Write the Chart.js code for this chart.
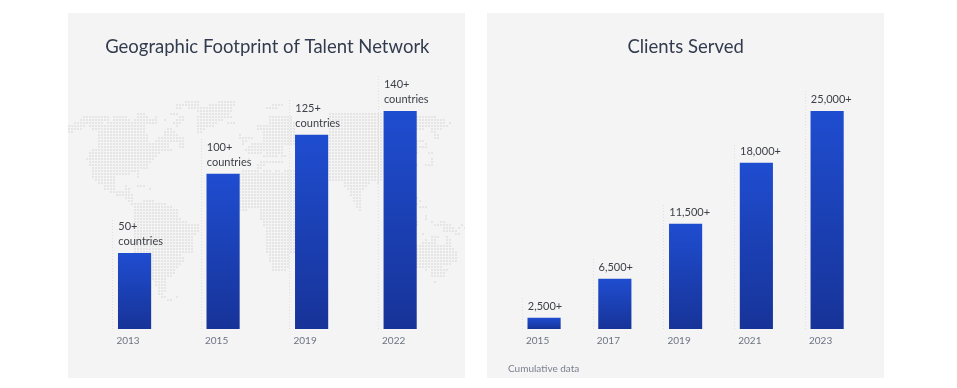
<!DOCTYPE html>
<html>
<head>
<meta charset="utf-8">
<title>Talent network and clients</title>
<script src="https://cdn.jsdelivr.net/npm/chart.js@4"></script>
<style>
  html, body { margin: 0; padding: 0; background: #fff; }
  body { width: 957px; height: 388px; position: relative; overflow: hidden; font-family: Lato, sans-serif; }
  .panel { position: absolute; top: 13px; width: 397px; height: 365px; background: #f4f4f4; }
  #panelLeft { left: 68px; }
  #panelRight { left: 487px; }
  .note { position: absolute; left: 21px; top: 349px; font-size: 10px; line-height: 12px; color: #7b8090; }
</style>
</head>
<body>
<div class="panel" id="panelLeft"><canvas id="footprintChart" width="397" height="365"></canvas></div>
<div class="panel" id="panelRight"><canvas id="clientsChart" width="397" height="365"></canvas><div class="note">Cumulative data</div></div>

<script>
// values are read from the bar heights, the printed labels are kept apart
// because the bars in the original are not quite to scale with them
var footprintYears = ['2013', '2015', '2019', '2022'];
var footprintValues = [48.6, 99.5, 124.6, 140];
var footprintLabels = [['50+', 'countries'], ['100+', 'countries'], ['125+', 'countries'], ['140+', 'countries']];

var clientYears = ['2015', '2017', '2019', '2021', '2023'];
var clientValues = [1260, 5730, 12040, 19040, 25000];
var clientLabels = [['2,500+'], ['6,500+'], ['11,500+'], ['18,000+'], ['25,000+']];

// dotted world map behind the left chart, one string per row, runs of columns
var worldMapRows = [
  '39-43 50-55',
  '36-43 47-55 68-71',
  '36-37 40-54 66-69',
  '43-54',
  '23-25 34-36 44-53 87-104',
  '5-13 15-19 23-26 29 37-38 43-54 67-74 87-104 116-122',
  '4-13 15-20 22-29 32 36-38 43-51 67-74 87-104 116-125',
  '2-11 13-29 35-37 43-49 53-55 67-75 87-104 116-125 127',
  '0-5 7-25 36 43-48 63-75 87-104 116-126',
  '0-4 8-25 33-34 43-45 63-75 87-104 116-118 121-124',
  '0-1 10-25 32-35 43-44 65-75 87-104 121-122',
  '10-26 32-36 57 65-75 87-104 122-123',
  '10-26 30-38 57-61 65-75 87-104 122-123',
  '10-26 29-38 58-59 65-75 87-104 116-118',
  '10-33 37-38 58 61-75 87-104 116 119',
  '10-33 37-38 60-71 87-104 116-119',
  '8-34 59-71 87-104 116',
  '7-30 60-64 66-71 87-104 116 120-121',
  '7-29 65-69 71-72 87-104',
  '6-28 60 87-104 121',
  '7-27 64-71 87-104 121',
  '7-26 63-65 87-104 116 119-121',
  '8-26 63-64 87-104',
  '8-23 58-63 65-67 69-70 72-75 87-104',
  '8-20 23 57-104',
  '8-15 23 57-104',
  '9-15 57-104',
  '10-15 57-75 92-100 103',
  '12-15 19 23-25 57-75 92-99',
  '12-15 19-20 27 57-75 93-98',
  '14-20 57-75 94-97',
  '16-21 57-75 94-97',
  '19-21 57-75 95-97 116',
  '20-21 25-28 57-75 95-97 117',
  '21-32 57-75 96-97 116',
  '22-34 57-75 96-97 117-119',
  '22-36 57-59 64-75 97',
  '22-36 64-75',
  '22-36 64-75 119',
  '22-37 64-75 119',
  '22-39 65-75 116 121 124-125',
  '22-43 65-75 116 122-127 131',
  '22-43 66-75 125-128 130 132',
  '22-43 66-75 125-129',
  '22-42 66-75 118 129-130',
  '22-41 66-75 121-123 126',
  '22-41 66-75 119 121-122 126-127',
  '22-41 66-75 118-122 126-127',
  '22-41 66-75 116-127',
  '22-41 66-75 116-128',
  '22-41 66-75 116-129',
  '27-37 67-73 116-129',
  '28-38 67-73 116-129',
  '28-38 67-73 116-129',
  '28-37 68-73 116-127',
  '28-36 68-73 116-124',
  '28-35 68-72 119 121-126',
  '28-35 121-125',
  '28-34 121-125',
  '28-32',
  '29-32 122',
  '29-32',
  '30-32',
  '30-32',
  '30-31',
  '31-32 36',
  '33-34'
];

var worldMapPlugin = {
  id: 'worldMap',
  beforeDatasetsDraw: function (chart) {
    var c = chart.ctx;
    c.save();
    c.fillStyle = '#e5e5e6';
    worldMapRows.forEach(function (row, r) {
      row.split(' ').forEach(function (run) {
        var parts = run.split('-');
        var from = +parts[0];
        var to = +parts[parts.length - 1];
        for (var col = from; col <= to; col++) {
          c.fillRect(col * 3, 88 + r * 3, 2, 2);
        }
      });
    });
    c.restore();
  }
};

// text above each bar and the dotted line to the left of it
var barNotesPlugin = {
  id: 'barNotes',
  afterDatasetsDraw: function (chart, args, opts) {
    var c = chart.ctx;
    var bars = chart.getDatasetMeta(0).data;
    c.save();
    bars.forEach(function (bar, i) {
      var lines = opts.labels[i];
      var left = bar.x - bar.width / 2;
      var bottom = chart.scales.y.getPixelForValue(0);
      var top = bar.y - 20 - (lines.length - 1) * 15.5;

      c.strokeStyle = '#dfdfe0';
      c.lineWidth = 1;
      c.setLineDash([1, 2]);
      c.beginPath();
      c.moveTo(Math.round(left - 6) + 0.5, bottom);
      c.lineTo(Math.round(left - 6) + 0.5, top);
      c.stroke();

      c.fillStyle = '#3c3f46';
      c.font = '11px Lato, sans-serif';
      c.textAlign = 'left';
      c.textBaseline = 'middle';
      lines.forEach(function (line, k) {
        c.fillText(line, left, bar.y - 12 - (lines.length - 1 - k) * 15);
      });
    });
    c.restore();
  }
};

function barGradient(context) {
  var chart = context.chart;
  if (!chart.chartArea || !context.parsed) {
    return '#1d45c0';
  }
  var y = chart.scales.y;
  var g = chart.ctx.createLinearGradient(0, y.getPixelForValue(context.parsed.y), 0, y.getPixelForValue(0));
  g.addColorStop(0, '#1f4dd0');
  g.addColorStop(1, '#173398');
  return g;
}

function makeChart(id, titleText, years, values, labels, maxValue, sidePad, tickShift, extraPlugins) {
  return new Chart(document.getElementById(id), {
    type: 'bar',
    data: {
      labels: years,
      datasets: [{
        data: values,
        backgroundColor: barGradient,
        borderWidth: 0,
        barThickness: 32.5
      }]
    },
    options: {
      responsive: false,
      animation: false,
      layout: { padding: { left: sidePad[0], right: sidePad[1], top: 0, bottom: 0 } },
      plugins: {
        legend: { display: false },
        tooltip: { enabled: false },
        title: {
          display: true,
          text: titleText,
          color: '#333c4e',
          font: { family: 'Lato, sans-serif', size: 18.5, weight: 'normal', lineHeight: 1.2 },
          padding: { top: 22.9, bottom: 52.9 }
        },
        barNotes: { labels: labels }
      },
      scales: {
        x: {
          grid: { display: false, drawTicks: false },
          border: { display: false },
          afterFit: function (scale) { scale.height = 49; },
          ticks: {
            color: '#6e7382',
            font: { family: 'Lato, sans-serif', size: 10 },
            padding: 6,
            maxRotation: 0,
            labelOffset: tickShift
          }
        },
        y: { display: false, min: 0, max: maxValue }
      }
    },
    plugins: extraPlugins
  });
}

makeChart('footprintChart', 'Geographic Footprint of Talent Network', footprintYears, footprintValues,
  footprintLabels, 140, [22.3, 20.6], -6.5, [worldMapPlugin, barNotesPlugin]);
makeChart('clientsChart', 'Clients Served', clientYears, clientValues,
  clientLabels, 25000, [21.7, 21.5], -6.5, [barNotesPlugin]);
</script>
</body>
</html>
